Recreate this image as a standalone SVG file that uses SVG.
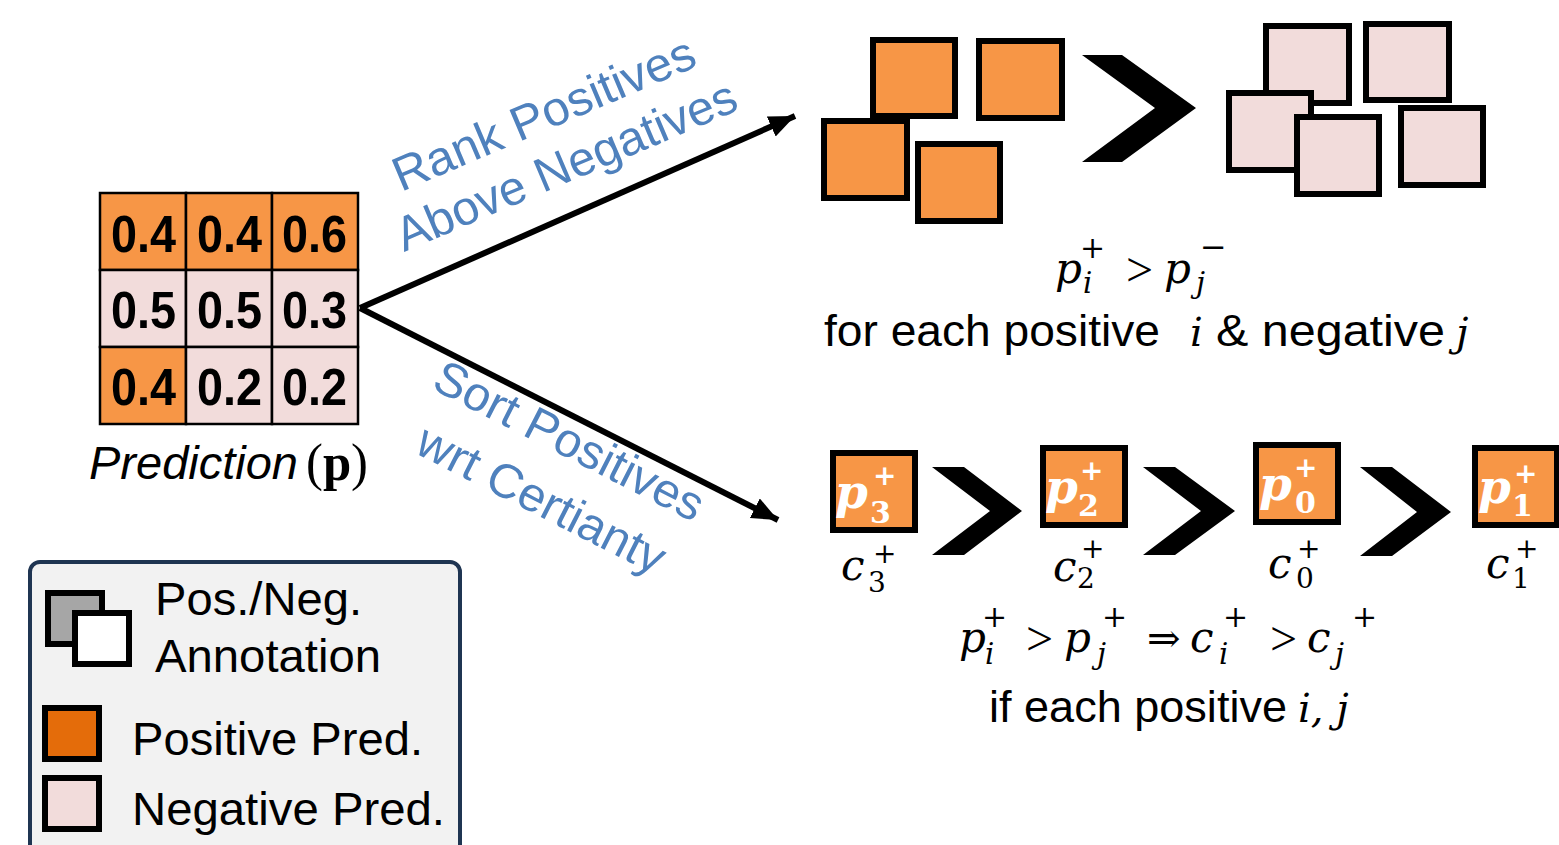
<svg xmlns="http://www.w3.org/2000/svg" width="1559" height="845" viewBox="0 0 1559 845">
<style>
.pos{fill:#f79646;stroke:#000;stroke-width:6}
.neg{fill:#f2dcdb;stroke:#000;stroke-width:6}
.cell{stroke:#000;stroke-width:2.5}
.num{font-family:"Liberation Sans",Arial,sans-serif;font-weight:bold;font-size:52px;fill:#000}
.sans{font-family:"Liberation Sans",Arial,sans-serif;fill:#000}
.blue{font-family:"Liberation Sans",Arial,sans-serif;font-size:48px;fill:#4f81bd}
.m{font-family:"DejaVu Serif",serif;font-style:italic;fill:#000}
.mu{font-family:"DejaVu Serif",serif;fill:#000}
.gt{font-family:"Liberation Serif","Times New Roman",serif;font-size:48px;fill:#000}
.w{fill:#fff;font-weight:bold}
.chev{fill:#000}
.conn{stroke:#000;stroke-width:6;fill:none}
</style>
<defs>
<marker id="ah" markerUnits="userSpaceOnUse" markerWidth="28" markerHeight="24" refX="26" refY="11" orient="auto">
<path d="M0,0 L26,11 L0,22 z" fill="#000"/>
</marker>
</defs>
<rect width="1559" height="845" fill="#fff"/>

<g id="prediction">
<rect class="cell" x="100" y="193" width="86" height="77" fill="#f79646"/>
<rect class="cell" x="186" y="193" width="86" height="77" fill="#f79646"/>
<rect class="cell" x="272" y="193" width="86" height="77" fill="#f79646"/>
<rect class="cell" x="100" y="270" width="86" height="77" fill="#f2dcdb"/>
<rect class="cell" x="186" y="270" width="86" height="77" fill="#f2dcdb"/>
<rect class="cell" x="272" y="270" width="86" height="77" fill="#f2dcdb"/>
<rect class="cell" x="100" y="347" width="86" height="77" fill="#f79646"/>
<rect class="cell" x="186" y="347" width="86" height="77" fill="#f2dcdb"/>
<rect class="cell" x="272" y="347" width="86" height="77" fill="#f2dcdb"/>
<text class="num" x="111" y="252" textLength="65" lengthAdjust="spacingAndGlyphs">0.4</text>
<text class="num" x="197" y="252" textLength="65" lengthAdjust="spacingAndGlyphs">0.4</text>
<text class="num" x="282" y="252" textLength="65" lengthAdjust="spacingAndGlyphs">0.6</text>
<text class="num" x="111" y="328" textLength="65" lengthAdjust="spacingAndGlyphs">0.5</text>
<text class="num" x="197" y="328" textLength="65" lengthAdjust="spacingAndGlyphs">0.5</text>
<text class="num" x="282" y="328" textLength="65" lengthAdjust="spacingAndGlyphs">0.3</text>
<text class="num" x="111" y="405" textLength="65" lengthAdjust="spacingAndGlyphs">0.4</text>
<text class="num" x="197" y="405" textLength="65" lengthAdjust="spacingAndGlyphs">0.2</text>
<text class="num" x="282" y="405" textLength="65" lengthAdjust="spacingAndGlyphs">0.2</text>
<text class="sans" x="89" y="479" font-size="47" font-style="italic" textLength="209" lengthAdjust="spacingAndGlyphs">Prediction</text>
<text x="306" y="480" font-size="52" font-family="Liberation Serif,serif" textLength="62" lengthAdjust="spacingAndGlyphs">(<tspan font-weight="bold">p</tspan>)</text>
</g>

<g id="connectors">
<line class="conn" x1="360" y1="308" x2="795" y2="116" marker-end="url(#ah)"/>
<line class="conn" x1="360" y1="308" x2="778" y2="520" marker-end="url(#ah)"/>
</g>

<g id="label-rank">
<text class="blue" transform="translate(401,192) rotate(-23)" textLength="324" lengthAdjust="spacingAndGlyphs">Rank Positives</text>
<text class="blue" transform="translate(404,252) rotate(-23)" textLength="366" lengthAdjust="spacingAndGlyphs">Above Negatives</text>
</g>
<g id="label-sort">
<text class="blue" transform="translate(430,388) rotate(27)" textLength="296" lengthAdjust="spacingAndGlyphs">Sort Positives</text>
<text class="blue" transform="translate(413,452) rotate(27)" textLength="272" lengthAdjust="spacingAndGlyphs">wrt Certianty</text>
</g>

<g id="ranking">
<rect class="pos" x="873" y="40" width="82" height="76"/>
<rect class="pos" x="979" y="41" width="83" height="77"/>
<rect class="pos" x="824" y="121" width="83" height="77"/>
<rect class="pos" x="918" y="144" width="82" height="77"/>
<polygon class="chev" points="1082,55 1122,55 1196,108 1122,162 1082,162 1155,108"/>
<rect class="neg" x="1266" y="26" width="83" height="77"/>
<rect class="neg" x="1366" y="24" width="83" height="76"/>
<rect class="neg" x="1229" y="93" width="82" height="77"/>
<rect class="neg" x="1297" y="117" width="82" height="77"/>
<rect class="neg" x="1401" y="108" width="82" height="77"/>
</g>

<g id="ranking-formula">
<text class="m" x="1055" y="283" font-size="42">p</text>
<text class="mu" x="1080" y="258" font-size="30">+</text>
<text class="m" x="1083" y="293" font-size="29">i</text>
<text class="gt" x="1126" y="286">&gt;</text>
<text class="m" x="1164" y="283" font-size="42">p</text>
<text class="mu" x="1200" y="258" font-size="32">−</text>
<text class="m" x="1196" y="293" font-size="29">j</text>
<text class="sans" x="824" y="346" font-size="44" textLength="336" lengthAdjust="spacingAndGlyphs">for each positive</text>
<text class="m" x="1190" y="346" font-size="40">i</text>
<text class="sans" x="1216" y="346" font-size="44" textLength="229" lengthAdjust="spacingAndGlyphs">&amp; negative</text>
<text class="m" x="1456" y="346" font-size="40">j</text>
</g>

<g id="sorting">
<rect class="pos" x="833" y="453" width="82" height="77"/>
<text class="m w" x="835" y="508" font-size="47">p</text>
<text class="mu w" x="873" y="485" font-size="28">+</text>
<text class="mu w" x="870" y="523" font-size="30">3</text>
<text class="m" x="841" y="580" font-size="42">c</text>
<text class="mu" x="873" y="563" font-size="28">+</text>
<text class="mu" x="868" y="592" font-size="28">3</text>
<polygon class="chev" points="932,467 964,467 1022,511 964,555 932,555 990,511"/>

<rect class="pos" x="1043" y="448" width="82" height="77"/>
<text class="m w" x="1045" y="503" font-size="47">p</text>
<text class="mu w" x="1080" y="480" font-size="28">+</text>
<text class="mu w" x="1078" y="516" font-size="30">2</text>
<text class="m" x="1053" y="581" font-size="42">c</text>
<text class="mu" x="1081" y="558" font-size="28">+</text>
<text class="mu" x="1077" y="588" font-size="28">2</text>
<polygon class="chev" points="1143,467 1175,467 1235,511 1175,555 1143,555 1201,511"/>

<rect class="pos" x="1256" y="445" width="82" height="77"/>
<text class="m w" x="1259" y="500" font-size="47">p</text>
<text class="mu w" x="1294" y="477" font-size="28">+</text>
<text class="mu w" x="1295" y="513" font-size="30">0</text>
<text class="m" x="1268" y="578" font-size="42">c</text>
<text class="mu" x="1297" y="558" font-size="28">+</text>
<text class="mu" x="1296" y="588" font-size="28">0</text>
<polygon class="chev" points="1360,467 1392,467 1451,512 1392,556 1360,556 1417,512"/>

<rect class="pos" x="1475" y="448" width="82" height="77"/>
<text class="m w" x="1478" y="503" font-size="47">p</text>
<text class="mu w" x="1514" y="483" font-size="28">+</text>
<text class="mu w" x="1512" y="516" font-size="30">1</text>
<text class="m" x="1486" y="578" font-size="42">c</text>
<text class="mu" x="1515" y="558" font-size="28">+</text>
<text class="mu" x="1512" y="588" font-size="28">1</text>
</g>

<g id="sorting-formula">
<text class="m" x="959" y="652" font-size="42">p</text>
<text class="mu" x="982" y="627" font-size="30">+</text>
<text class="m" x="985" y="664" font-size="29">i</text>
<text class="gt" x="1026" y="655">&gt;</text>
<text class="m" x="1064" y="652" font-size="42">p</text>
<text class="mu" x="1102" y="627" font-size="30">+</text>
<text class="m" x="1097" y="664" font-size="29">j</text>
<text class="mu" x="1147" y="652" font-size="40">⇒</text>
<text class="m" x="1190" y="652" font-size="42">c</text>
<text class="mu" x="1223" y="627" font-size="30">+</text>
<text class="m" x="1219" y="664" font-size="29">i</text>
<text class="gt" x="1270" y="655">&gt;</text>
<text class="m" x="1307" y="652" font-size="42">c</text>
<text class="mu" x="1352" y="627" font-size="30">+</text>
<text class="m" x="1335" y="664" font-size="29">j</text>
<text class="sans" x="989" y="722" font-size="44" textLength="298" lengthAdjust="spacingAndGlyphs">if each positive</text>
<text class="m" x="1298" y="722" font-size="40">i, j</text>
</g>

<g id="legend">
<rect x="30" y="562" width="430" height="310" rx="10" fill="#f2f2f2" stroke="#1f3552" stroke-width="4"/>
<rect x="48" y="593" width="54" height="51" fill="#a6a6a6" stroke="#000" stroke-width="6"/>
<rect x="75" y="613" width="54" height="51" fill="#fff" stroke="#000" stroke-width="6"/>
<text class="sans" x="155" y="615" font-size="46" textLength="207" lengthAdjust="spacingAndGlyphs">Pos./Neg.</text>
<text class="sans" x="155" y="672" font-size="46" textLength="226" lengthAdjust="spacingAndGlyphs">Annotation</text>
<rect x="45" y="708" width="54" height="51" fill="#e46c0a" stroke="#000" stroke-width="6"/>
<text class="sans" x="132" y="755" font-size="46" textLength="291" lengthAdjust="spacingAndGlyphs">Positive Pred.</text>
<rect x="45" y="778" width="54" height="51" fill="#f2dcdb" stroke="#000" stroke-width="6"/>
<text class="sans" x="132" y="825" font-size="46" textLength="313" lengthAdjust="spacingAndGlyphs">Negative Pred.</text>
</g>
</svg>
